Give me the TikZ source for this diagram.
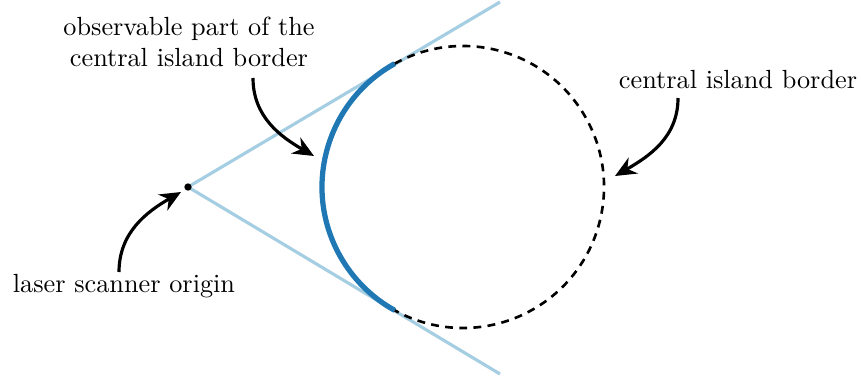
\documentclass[tikz,border=0pt]{standalone}
\usetikzlibrary{arrows.meta,calc}
\definecolor{lightblue}{HTML}{A6CEE3}
\definecolor{darkblue}{HTML}{1F78B4}
\begin{document}
\begin{tikzpicture}[x=0.381pt,y=0.381pt,
  ray/.style={lightblue,line width=1.2pt},
  seen/.style={darkblue,line width=2pt},
  border/.style={black,line width=1pt,dash pattern=on 3pt off 2.4pt},
  pointer/.style={black,line width=1.2pt,-{Stealth[length=8pt,width=7pt]}},
  lbl/.style={font=\normalsize,inner sep=0pt,align=center}]
\useasboundingbox (0,0) rectangle (861,382);
% geometry
\coordinate (O) at (188,195);
\coordinate (C) at (463,195);
\coordinate (U) at (500,380);
\coordinate (D) at (500,8);
% rays
\draw[ray] (O) -- (U);
\draw[ray] (O) -- (D);
% circle
\draw[border] ($(C)+(119:141)$) arc[start angle=119,end angle=-119,radius=141];
\draw[seen] ($(C)+(119:141)$) arc[start angle=119,end angle=241,radius=141];
\fill (O) circle[radius=1.4pt];
% labels
\node[lbl] (t1) at (189,340) {observable part of the\\central island border};
\node[lbl] (t2) at (738,302) {central island border};
\node[lbl] (t3) at (124,96) {laser scanner origin};
% arrows
\coordinate (a1s) at (253,304);
\coordinate (a1e) at (314,226);
\coordinate (a2s) at (678,284);
\coordinate (a2e) at (615,206);
\coordinate (a3s) at (119,110);
\coordinate (a3e) at (181,190);
\draw[pointer] (a1s) to[out=-90,in=150] (a1e);
\draw[pointer] (a2s) to[out=-90,in=30] (a2e);
\draw[pointer] (a3s) to[out=90,in=210] (a3e);
\end{tikzpicture}
\end{document}
